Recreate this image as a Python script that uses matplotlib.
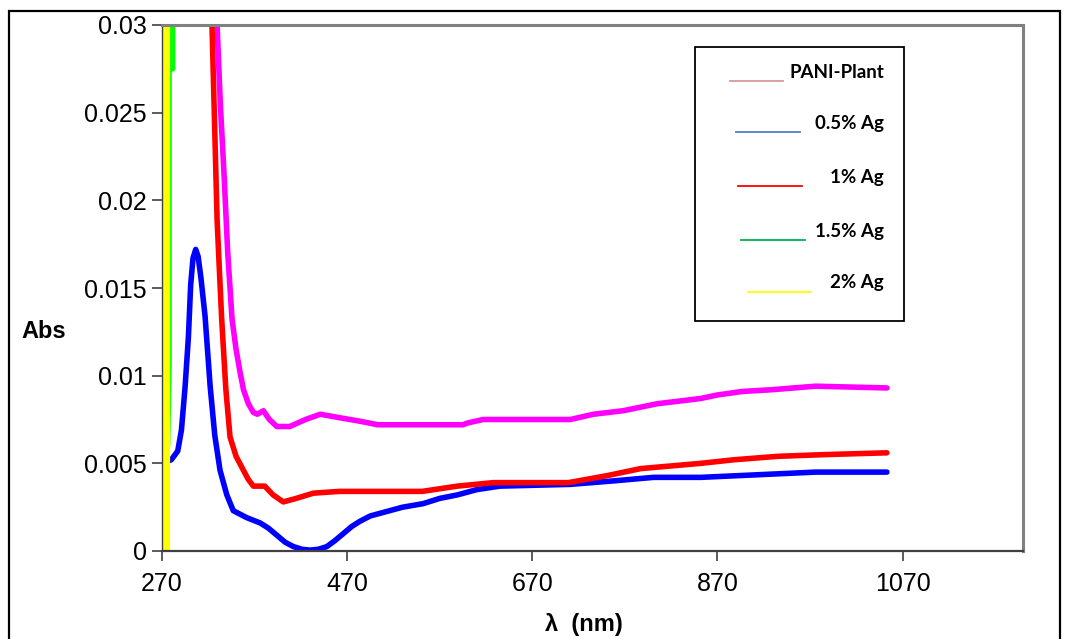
import matplotlib.pyplot as plt
from matplotlib.lines import Line2D
from matplotlib.patches import Rectangle

# PANI-Plant (magenta in the plot)
pani_x = [324, 329.5, 333, 337, 341, 345.7, 350, 354.3, 358, 363.3, 368.7, 373, 379.5, 386, 394,
          408, 425, 441, 462, 484, 503, 595, 600, 617, 711, 736, 768, 805, 852, 870, 897, 929, 976, 1053]
pani_y = [0.034, 0.030, 0.0255, 0.0215, 0.0170, 0.0132, 0.0115, 0.0102, 0.0092, 0.0084, 0.0079, 0.0078,
          0.0080, 0.0075, 0.0071, 0.0071, 0.0075, 0.0078, 0.0076, 0.0074, 0.0072, 0.0072, 0.0073, 0.0075,
          0.0075, 0.0078, 0.0080, 0.0084, 0.0087, 0.0089, 0.0091, 0.0092, 0.0094, 0.0093]

# 0.5% Ag (blue)
ag05_x = [270, 280, 287, 291, 295, 298.5, 301, 303.5, 306.4, 309, 312, 316.5, 322, 327, 332.7, 340, 347,
          361.6, 376, 385, 394, 403, 412, 421, 430, 439, 448, 457, 466, 475, 484, 495, 509, 530, 552,
          570, 589, 610, 635, 711, 758, 801, 852, 976, 1053]
ag05_y = [0.0050, 0.0052, 0.0057, 0.0069, 0.0094, 0.0122, 0.0152, 0.0167, 0.0172, 0.0168, 0.0156,
          0.0134, 0.0094, 0.0066, 0.0046, 0.0032, 0.0023, 0.0019, 0.0016, 0.0013, 0.0009, 0.0005,
          0.00025, 0.0001, 0.00005, 0.0001, 0.00025, 0.0006, 0.0010, 0.0014, 0.0017, 0.0020, 0.0022,
          0.0025, 0.0027, 0.0030, 0.0032, 0.0035, 0.0037, 0.0038, 0.0040, 0.0042, 0.0042, 0.0045, 0.0045]

# 1% Ag (red)
ag1_x = [318, 324, 329.5, 332, 334.5, 339, 343.5, 350, 358, 363, 368.7, 381, 390, 401, 415, 433.6, 462,
         551, 589, 628, 709, 751, 787, 852, 887, 935, 987, 1053]
ag1_y = [0.034, 0.030, 0.0189, 0.0160, 0.0132, 0.0092, 0.0065, 0.0054, 0.0046, 0.0041, 0.0037, 0.0037,
         0.0032, 0.0028, 0.0030, 0.0033, 0.0034, 0.0034, 0.0037, 0.0039, 0.0039, 0.0043, 0.0047, 0.0050,
         0.0052, 0.0054, 0.0055, 0.0056]

# 1.5% Ag (green)
ag15_x = [276.0, 277.6, 277.6, 281.4, 281.4]
ag15_y = [0.0060, 0.0106, 0.0275, 0.0275, 0.0400]

# 2% Ag (yellow)
ag2_x = [273.8, 273.8]
ag2_y = [0.0, 0.0400]

legend_labels = ['PANI-Plant', '0.5% Ag', '1% Ag', '1.5% Ag', '2% Ag']
legend_colors = ['#D99694', '#4F81BD', '#FF0000', '#00B050', '#FFFF00']

W, H = 1065, 639
fig = plt.figure(figsize=(W / 100, H / 100), dpi=100)
ax = fig.add_axes([162 / W, 1 - 551 / H, (1023 - 162) / W, (551 - 25) / H])

lw = 4.0
ax.plot(pani_x, pani_y, color='#FF00FF', lw=lw, solid_capstyle='round', solid_joinstyle='round')
ax.plot(ag05_x, ag05_y, color='#0000FF', lw=lw, solid_capstyle='round', solid_joinstyle='round')
ax.plot(ag1_x, ag1_y, color='#FF0000', lw=lw, solid_capstyle='round', solid_joinstyle='round')
ax.plot(ag15_x, ag15_y, color='#00FF00', lw=lw, solid_capstyle='butt')
ax.plot(ag2_x, ag2_y, color='#FFFF00', lw=5.2, solid_capstyle='butt')

ax.set_xlim(270, 1200)
ax.set_ylim(0, 0.03)
ax.set_xticks([270, 470, 670, 870, 1070])
ax.set_yticks([0, 0.005, 0.01, 0.015, 0.02, 0.025, 0.03])
ax.set_yticklabels(['0', '0.005', '0.01', '0.015', '0.02', '0.025', '0.03'])

font = ['Liberation Sans', 'DejaVu Sans']
for lab in ax.get_xticklabels() + ax.get_yticklabels():
    lab.set_fontfamily(font)
    lab.set_fontsize(18)
ax.tick_params(axis='both', direction='out', length=7, width=1.2, color='#404040')
ax.tick_params(axis='x', pad=8)
ax.tick_params(axis='y', pad=4)

for side in ['top', 'right']:
    ax.spines[side].set_color('#808080')
    ax.spines[side].set_linewidth(2.2)
ax.spines['left'].set_color('#404040')
ax.spines['left'].set_linewidth(1.0)
ax.spines['bottom'].set_color('#404040')
ax.spines['bottom'].set_linewidth(1.6)

fig.text(44 / W, 1 - 331 / H, 'Abs', family=font, fontsize=17, fontweight='bold',
         ha='center', va='center')
fig.text(584 / W, 1 - 625 / H, 'λ  (nm)', family=font, fontsize=17, fontweight='bold',
         ha='center', va='center')

# legend box drawn like the original text box
fig.patches.append(Rectangle((695 / W, 1 - 321 / H), (904 - 695) / W, (321 - 47) / H,
                             transform=fig.transFigure, fill=False, edgecolor='black', lw=1.3))
text_y = [72, 123, 177, 231, 283]
line_x = [(730, 783), (736, 800), (738, 802), (741, 805), (748, 811)]
for lab, col, ty, (x0, x1) in zip(legend_labels, legend_colors, text_y, line_x):
    ly = 1 - (ty + 9) / H
    fig.add_artist(Line2D([x0 / W, x1 / W], [ly, ly], color=col, lw=1.3,
                          transform=fig.transFigure))
    fig.text(884 / W, 1 - ty / H, lab, family=['Lato', 'DejaVu Sans'], fontsize=13.5,
             fontweight='bold', ha='right', va='center')

# outer frame
fig.patches.append(Rectangle((9 / W, -0.05), (1060 - 9) / W, 1 - 11 / H + 0.05,
                             transform=fig.transFigure, fill=False, edgecolor='black', lw=1.6))

fig.savefig('out.png', dpi=100)
